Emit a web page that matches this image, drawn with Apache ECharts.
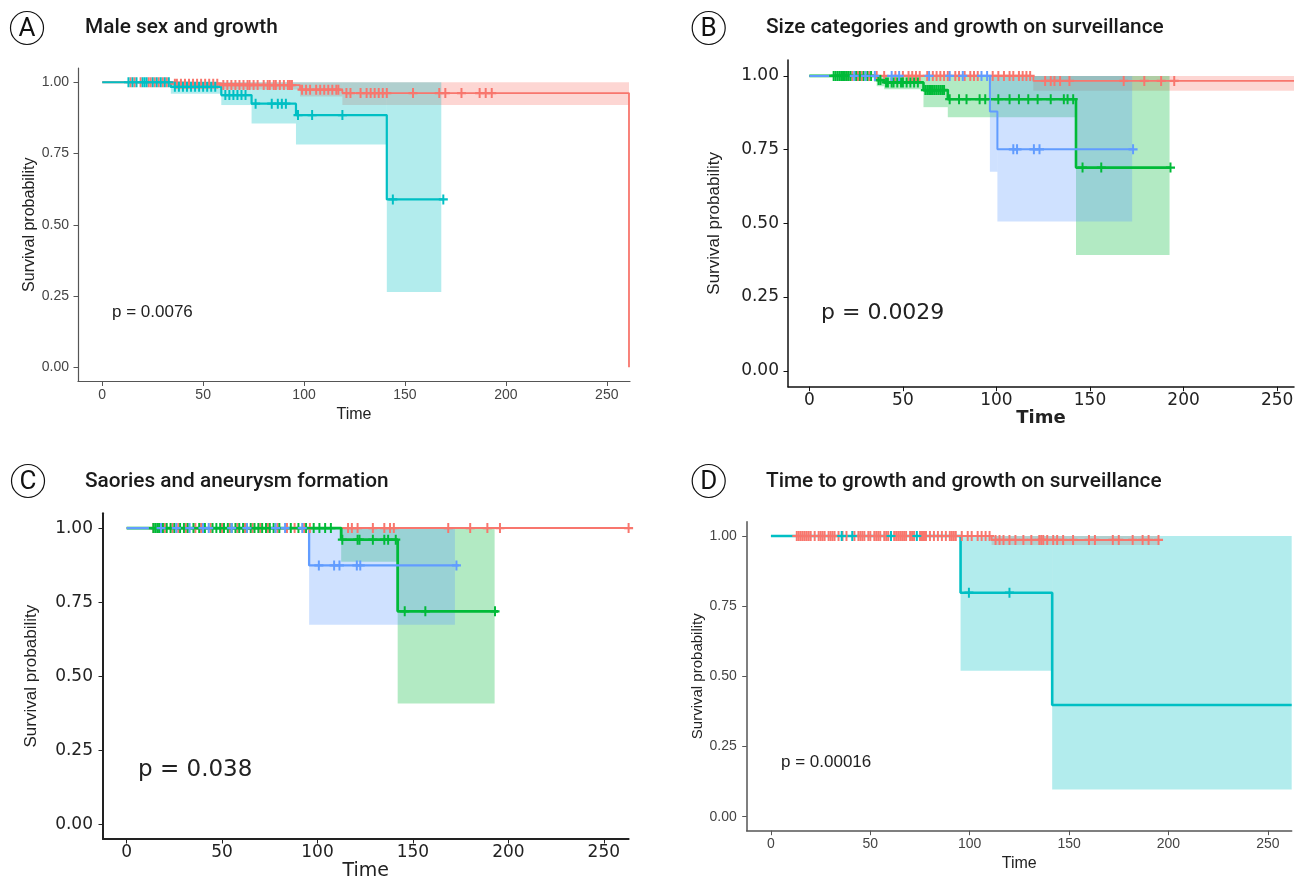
<!DOCTYPE html>
<html><head><meta charset="utf-8">
<script src="https://cdn.jsdelivr.net/npm/echarts@6/dist/echarts.min.js"></script>
<style>html,body{margin:0;padding:0;background:#fff}#chart{width:1304px;height:882px}</style>
</head><body><div id="chart"></div>
<script>
// ---------- shared text / ticks ----------
const xTicks = [0, 50, 100, 150, 200, 250];
const yTicks = [0, 0.25, 0.5, 0.75, 1];
const panelLetters = ['A', 'B', 'C', 'D'];
const panelTitles = ['Male sex and growth', 'Size categories and growth on surveillance', 'Saories and aneurysm formation', 'Time to growth and growth on surveillance'];
const pValues = ['p = 0.0076', 'p = 0.0029', 'p = 0.038', 'p = 0.00016'];
const xName = 'Time';
const yName = 'Survival probability';

// ---------- Panel A ----------
const aRedTimes = [0, 35, 59, 98, 119, 261];
const aRedSurv = [1, 0.995, 0.99, 0.974, 0.962, 0];
const aRedBand = [[35, 59, 0.985, 1], [59, 98, 0.975, 1], [98, 119, 0.95, 1], [119, 261, 0.92, 1]];
const aRedCensor = [14, 16, 19, 23, 24, 26, 28, 30, 32, 36, 37, 39, 41, 43, 45, 47, 49, 51, 53, 55, 57, 60, 62, 64, 66, 68, 70, 72, 73, 75, 77, 80, 82, 83, 85, 86, 88, 90, 92, 93, 94, 99, 101, 103, 106, 108, 110, 112, 114, 116, 117, 121, 123, 128, 131, 133, 135, 137, 139, 141, 154, 167, 170, 178, 187, 190, 193];
const aTealTimes = [0, 34, 59, 74, 96, 141, 169];
const aTealSurv = [1, 0.984, 0.955, 0.925, 0.885, 0.589, 0.589];
const aTealBand = [[34, 59, 0.96, 1], [59, 74, 0.92, 1], [74, 96, 0.855, 1], [96, 141, 0.782, 1], [141, 168, 0.264, 1]];
const aTealCensor = [13, 15, 17, 20, 21, 22, 25, 27, 29, 31, 33, 36, 38, 40, 42, 44, 46, 48, 50, 52, 54, 56, 61, 63, 65, 67, 69, 71, 76, 84, 87, 89, 91, 97, 104, 119, 144, 169];

// ---------- Panel B ----------
const bRedTimes = [0, 119.7, 259];
const bRedSurv = [1, 0.983, 0.983];
const bRedBand = [[119.7, 259, 0.95, 1]];
const bRedCensor = [20, 23, 26, 28, 32, 36, 40, 46, 50, 53, 55, 57, 59, 63, 66, 68, 70, 72, 74, 78, 80, 83, 86, 88, 90, 98, 101, 104, 107, 109, 112, 114, 116, 118, 126, 129, 131, 134, 139, 168, 179, 188, 195];
const bGreenTimes = [0, 36, 40, 61, 74, 142.5, 193];
const bGreenSurv = [1, 0.986, 0.978, 0.952, 0.921, 0.689, 0.689];
const bGreenBand = [[36, 40, 0.965, 1], [40, 61, 0.955, 1], [61, 74, 0.894, 1], [74, 142.5, 0.86, 1], [142.5, 192.5, 0.393, 1]];
const bGreenCensor = [13, 14, 15, 16, 17, 18, 19, 20, 21, 22, 25, 27, 29, 31, 33, 37, 38, 41, 42, 44, 45, 47, 49, 50, 52, 54, 56, 58, 62, 63, 64, 65, 66, 67, 68, 69, 70, 71, 72, 75, 80, 84, 91, 94, 101, 107, 112, 117, 122, 129, 136, 138, 141, 146, 156, 193];
const bBlueTimes = [0, 96.5, 100.5, 173];
const bBlueSurv = [1, 0.879, 0.751, 0.751];
const bBlueBand = [[96.5, 100.5, 0.675, 1], [100.5, 172.5, 0.506, 1]];
const bBlueCensor = [24, 30, 35, 44, 48, 64, 75, 82, 92, 95, 109, 111, 120, 123, 173];

// ---------- Panel C ----------
const cRedTimes = [0, 263];
const cRedSurv = [1, 1];
const cRedBand = [];
const cRedCensor = [14, 17, 20, 24, 27, 31, 36, 39, 44, 50, 54, 58, 62, 66, 70, 74, 79, 84, 88, 93, 96, 116, 118, 121, 129, 135, 138, 140, 168.5, 180, 189, 195.6, 263];
const cGreenTimes = [0, 112.4, 142, 194.6];
const cGreenSurv = [1, 0.961, 0.719, 0.719];
const cGreenBand = [[112.4, 142, 0.886, 1], [142, 192.8, 0.408, 1]];
const cGreenCensor = [14, 15, 16, 17, 19, 21, 23, 25, 28, 30, 32, 35, 38, 41, 45, 47, 49, 51, 53, 55, 57, 59, 61, 63, 65, 67, 69, 71, 73, 75, 77, 80, 86, 90, 94, 98, 101, 104, 107, 113, 121, 122, 129, 135, 137, 141, 145.7, 156.5, 193];
const cBlueTimes = [0, 95.6, 174];
const cBlueSurv = [1, 0.874, 0.874];
const cBlueBand = [[95.6, 172, 0.674, 1]];
const cBlueCensor = [18, 26, 33, 40, 43, 55, 63, 78, 83, 92, 100.7, 108.7, 111.5, 120.6, 122.4, 172.8];

// ---------- Panel D ----------
const dRedTimes = [0, 111, 195];
const dRedSurv = [1, 0.986, 0.986];
const dRedBand = [[111, 195, 0.968, 1]];
const dRedCensor = [13, 14, 15, 16, 17, 18, 19, 20, 22, 24, 25, 26, 27, 29, 30, 31, 32, 34, 36, 38, 42, 44, 45, 46, 47, 49, 50, 52, 53, 54, 55, 57, 58, 59, 62, 63, 64, 65, 66, 67, 68, 70, 71, 72, 75, 76, 77, 78, 80, 82, 84, 86, 88, 90, 91, 92, 93, 96, 99, 101, 104, 106, 108, 110, 113, 115, 117, 120, 123, 127, 131, 135, 136, 137, 139, 142, 144, 147, 152, 160, 163, 172, 175, 182, 187, 190, 195];
const dTealTimes = [0, 95.4, 141.5, 262];
const dTealSurv = [1, 0.798, 0.398, 0.398];
const dTealBand = [[95.4, 141.5, 0.52, 1], [141.5, 262, 0.097, 1]];
const dTealCensor = [35.6, 40.9, 60.4, 73.4, 99.6, 120];

// ---------- styling / layout ----------
const RED = '#F8766D', TEAL = '#00BFC4', GREEN = '#00BA38', BLUE = '#619CFF';
const PLUS = 'path://M3.9,0h2.2v10h-2.2zM0,3.9h10v2.2h-10z';

const panels = [
  { grid: { left: 78, top: 68, width: 552, height: 313.5 }, x: [-12, 261.5], y: [-0.05, 1.05],
    tickFont: { fontFamily: 'Liberation Sans', fontSize: 14, color: '#444' }, axisColor: '#555', axisWidth: 1.2,
    xNameFont: { fontFamily: 'Liberation Sans', fontSize: 16, color: '#222' }, xNameGap: 25,
    yNameFont: { fontFamily: 'Liberation Sans', fontSize: 16, color: '#222' }, yNameGap: 39.5,
    xMargin: 7, yMargin: 9, markSize: [9, 10],
    groups: [
      { times: aRedTimes, surv: aRedSurv, band: aRedBand, censor: aRedCensor, color: RED, lineW: 1.8 },
      { times: aTealTimes, surv: aTealSurv, band: aTealBand, censor: aTealCensor, color: TEAL, lineW: 2.2 }
    ] },
  { grid: { left: 788, top: 60, width: 506, height: 326.7 }, x: [-11.4, 259], y: [-0.054, 1.054],
    tickFont: { fontFamily: 'DejaVu Sans', fontSize: 17, color: '#222' }, axisColor: '#111', axisWidth: 1.5,
    xNameFont: { fontFamily: 'DejaVu Sans', fontSize: 18, fontWeight: 'bold', color: '#222' }, xNameGap: 20,
    yNameFont: { fontFamily: 'Liberation Sans', fontSize: 17, color: '#222' }, yNameGap: 65,
    xMargin: 5, yMargin: 9, markSize: [9, 10],
    groups: [
      { times: bRedTimes, surv: bRedSurv, band: bRedBand, censor: bRedCensor, color: RED, lineW: 1.8 },
      { times: bGreenTimes, surv: bGreenSurv, band: bGreenBand, censor: bGreenCensor, color: GREEN, lineW: 2.6 },
      { times: bBlueTimes, surv: bBlueSurv, band: bBlueBand, censor: bBlueCensor, color: BLUE, lineW: 2 }
    ] },
  { grid: { left: 103, top: 513.3, width: 525.6, height: 330 }, x: [-12.4, 263], y: [-0.05, 1.05],
    tickFont: { fontFamily: 'DejaVu Sans', fontSize: 17, color: '#222' }, axisColor: '#222', axisWidth: 2,
    xNameFont: { fontFamily: 'DejaVu Sans', fontSize: 19, color: '#222' }, xNameGap: 23,
    yNameFont: { fontFamily: 'Liberation Sans', fontSize: 17, color: '#222' }, yNameGap: 63.5,
    xMargin: 5, yMargin: 10, markSize: [9, 10],
    groups: [
      { times: cRedTimes, surv: cRedSurv, band: cRedBand, censor: cRedCensor, color: RED, lineW: 2 },
      { times: cGreenTimes, surv: cGreenSurv, band: cGreenBand, censor: cGreenCensor, color: GREEN, lineW: 2.8 },
      { times: cBlueTimes, surv: cBlueSurv, band: cBlueBand, censor: cBlueCensor, color: BLUE, lineW: 2.3 }
    ] },
  { grid: { left: 746.7, top: 521.7, width: 545, height: 309 }, x: [-12.2, 262], y: [-0.05, 1.051],
    tickFont: { fontFamily: 'Liberation Sans', fontSize: 14, color: '#444' }, axisColor: '#555', axisWidth: 1.5,
    xNameFont: { fontFamily: 'Liberation Sans', fontSize: 16, color: '#222' }, xNameGap: 25,
    yNameFont: { fontFamily: 'Liberation Sans', fontSize: 15, color: '#222' }, yNameGap: 38.5,
    xMargin: 6, yMargin: 10, markSize: [9, 10],
    groups: [
      { times: dRedTimes, surv: dRedSurv, band: dRedBand, censor: dRedCensor, color: RED, lineW: 2 },
      { times: dTealTimes, surv: dTealSurv, band: dTealBand, censor: dTealCensor, color: TEAL, lineW: 2.6 }
    ] }
];

const letterPos = [[27, 28], [708.7, 28], [28, 481], [708.7, 481]];
const titlePos = [[85, 28], [766, 28], [85, 481.5], [766, 481.5]];
const pPos = [[112, 312], [821, 313], [138, 770], [781, 762]];
const pFonts = [
  { fontFamily: 'Liberation Sans', fontSize: 17 },
  { fontFamily: 'DejaVu Sans', fontSize: 22 },
  { fontFamily: 'DejaVu Sans', fontSize: 23 },
  { fontFamily: 'Liberation Sans', fontSize: 17 }
];

function stepValue(times, surv, t) {
  let s = surv[0];
  for (let i = 0; i < times.length; i++) { if (times[i] <= t) s = surv[i]; }
  return s;
}

const grids = [], xAxes = [], yAxes = [], series = [];
panels.forEach((p, idx) => {
  grids.push(Object.assign({ containLabel: false }, p.grid));
  const axisLine = { show: true, onZero: false, lineStyle: { color: p.axisColor, width: p.axisWidth } };
  const axisTick = { show: true, length: 4.5, lineStyle: { color: p.axisColor, width: 1 } };
  xAxes.push({
    type: 'value', gridIndex: idx, min: p.x[0], max: p.x[1],
    axisLine, axisTick: Object.assign({ customValues: xTicks }, axisTick),
    axisLabel: Object.assign({ customValues: xTicks, margin: p.xMargin, hideOverlap: false, showMinLabel: true, showMaxLabel: true }, p.tickFont),
    splitLine: { show: false },
    name: xName, nameLocation: 'middle', nameGap: p.xNameGap, nameTextStyle: p.xNameFont
  });
  yAxes.push({
    type: 'value', gridIndex: idx, min: p.y[0], max: p.y[1],
    axisLine, axisTick: Object.assign({ customValues: yTicks }, axisTick),
    axisLabel: Object.assign({ customValues: yTicks, margin: p.yMargin, formatter: v => v.toFixed(2) }, p.tickFont),
    splitLine: { show: false },
    name: yName, nameLocation: 'middle', nameGap: p.yNameGap, nameRotate: 90, nameTextStyle: p.yNameFont
  });
  // confidence bands
  p.groups.forEach(g => {
    if (!g.band.length) return;
    series.push({
      type: 'custom', xAxisIndex: idx, yAxisIndex: idx, data: g.band, silent: true, z: 1,
      encode: { x: [0, 1], y: [2, 3] },
      renderItem: (params, api) => {
        const a = api.coord([api.value(0), api.value(3)]);
        const b = api.coord([api.value(1), api.value(2)]);
        return { type: 'rect', shape: { x: a[0], y: a[1], width: b[0] - a[0], height: b[1] - a[1] }, style: { fill: g.color, opacity: 0.3 } };
      }
    });
  });
  // survival curves
  p.groups.forEach(g => {
    series.push({
      type: 'line', xAxisIndex: idx, yAxisIndex: idx, step: 'end', symbol: 'none', silent: true, z: 3,
      data: g.times.map((t, i) => [t, g.surv[i]]),
      lineStyle: { color: g.color, width: g.lineW }, clip: false
    });
  });
  // censor marks
  p.groups.forEach(g => {
    series.push({
      type: 'scatter', xAxisIndex: idx, yAxisIndex: idx, symbol: PLUS, symbolSize: p.markSize, silent: true, z: 4,
      data: g.censor.map(t => [t, stepValue(g.times, g.surv, t)]),
      itemStyle: { color: g.color, opacity: 1 }, clip: false
    });
  });
});

const graphic = [];
panelLetters.forEach((L, i) => {
  graphic.push({ type: 'circle', shape: { cx: letterPos[i][0], cy: letterPos[i][1], r: 16.5 }, style: { fill: '#fff', stroke: '#111', lineWidth: 1.2 } });
  graphic.push({ type: 'text', x: letterPos[i][0], y: letterPos[i][1] + 1, style: { text: L, fill: '#111', font: '400 26px Roboto', align: 'center', verticalAlign: 'middle' } });
  graphic.push({ type: 'text', x: titlePos[i][0], y: titlePos[i][1], style: { text: panelTitles[i], fill: '#1a1a1a', font: '500 20.8px Roboto', align: 'left', verticalAlign: 'middle' } });
  graphic.push({ type: 'text', x: pPos[i][0], y: pPos[i][1], style: { text: pValues[i], fill: '#222', fontFamily: pFonts[i].fontFamily, fontSize: pFonts[i].fontSize, align: 'left', verticalAlign: 'middle' } });
});

const chart = echarts.init(document.getElementById('chart'), null, { renderer: 'canvas' });
chart.setOption({
  animation: false,
  backgroundColor: '#fff',
  grid: grids, xAxis: xAxes, yAxis: yAxes, series, graphic
});
</script>
</body></html>
